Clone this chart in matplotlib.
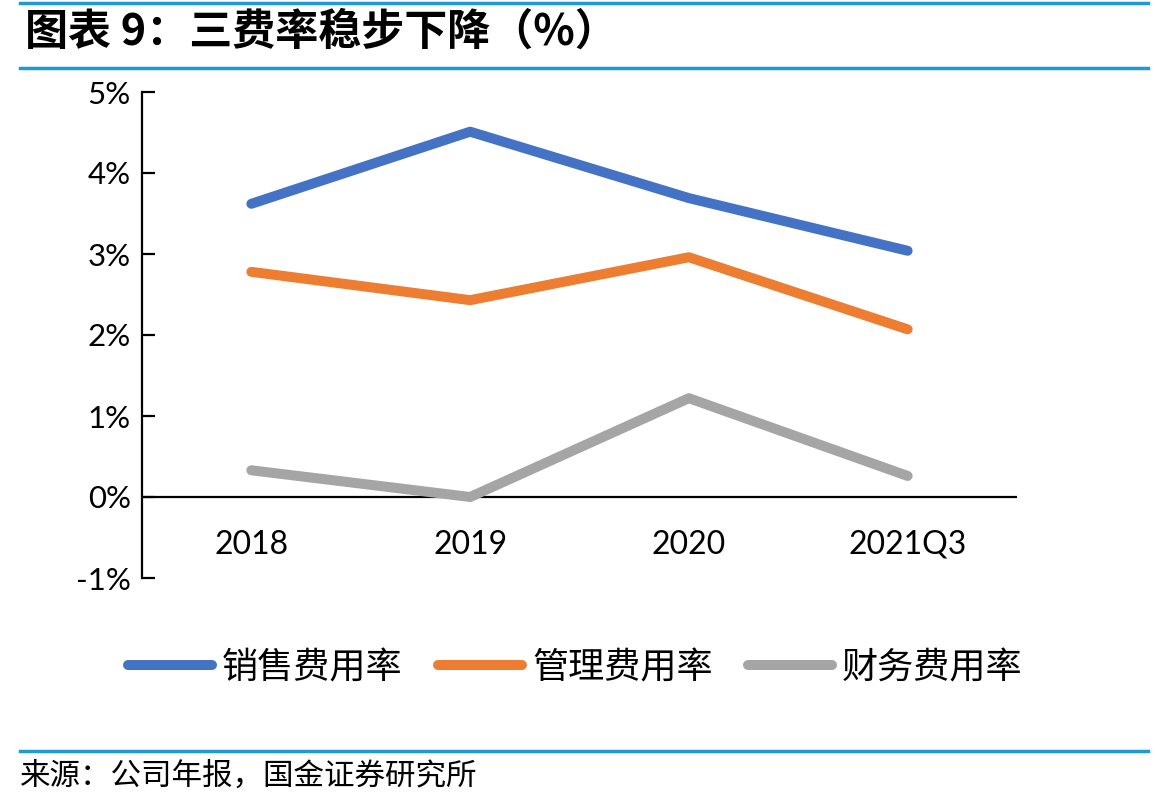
import matplotlib.pyplot as plt
from matplotlib.lines import Line2D

plt.rcParams['font.family'] = ['Noto Sans CJK SC', 'DejaVu Sans']

years = ["2018", "2019", "2020", "2021Q3"]
sales_rate = [3.62, 4.51, 3.69, 3.04]
admin_rate = [2.78, 2.43, 2.96, 2.07]
finance_rate = [0.33, 0.00, 1.22, 0.26]
series_names = ["销售费用率", "管理费用率", "财务费用率"]
colors = ["#4472C4", "#ED7D31", "#A5A5A5"]

fig = plt.figure(figsize=(11.69, 8.06), dpi=100)
ax = fig.add_axes([142 / 1169, 1 - 578 / 806, 875 / 1169, 486 / 806])

x = range(len(years))
for vals, c in zip([sales_rate, admin_rate, finance_rate], colors):
    ax.plot(x, vals, color=c, lw=7.2, solid_capstyle='round', solid_joinstyle='round')

ax.set_xlim(-0.5, len(years) - 0.5)
ax.set_ylim(-1, 5)
ax.axhline(0, color='black', lw=1.6, zorder=1)
for s in ['top', 'right', 'bottom']:
    ax.spines[s].set_visible(False)
ax.spines['left'].set_linewidth(1.6)
ax.set_xticks([])
ax.set_yticks(range(-1, 6))
ax.set_yticklabels([f"{v}%" for v in range(-1, 6)], family=['Lato', 'DejaVu Sans'], fontsize=22.5)
ax.tick_params(axis='y', direction='in', length=9, width=1.6, pad=8)
for i, y in enumerate(years):
    ax.text(i, -0.59, y, ha='center', va='center', fontsize=23, family=['Lato', 'DejaVu Sans'])

# title and rules
for yy in [3, 68, 751]:
    fig.add_artist(Line2D([20 / 1169, 1148 / 1169], [1 - yy / 806] * 2, color='#1E9BD7', lw=2.5))
fig.text(25 / 1169, 1 - 32 / 806, "图表 9：三费率稳步下降（%）", fontsize=31, fontweight='bold',
         va='center', ha='left')
fig.text(20 / 1169, 1 - 776 / 806, "来源：公司年报，国金证券研究所", fontsize=22, va='center', ha='left')

# legend
leg_x = [128, 438, 748]
for lx, name, c in zip(leg_x, series_names, colors):
    fig.add_artist(Line2D([lx / 1169, (lx + 84) / 1169], [1 - 665 / 806] * 2, color=c, lw=7.2,
                          solid_capstyle='round'))
    fig.text((lx + 94) / 1169, 1 - 668 / 806, name, fontsize=26, va='center', ha='left')

fig.savefig("out.png", dpi=100)
